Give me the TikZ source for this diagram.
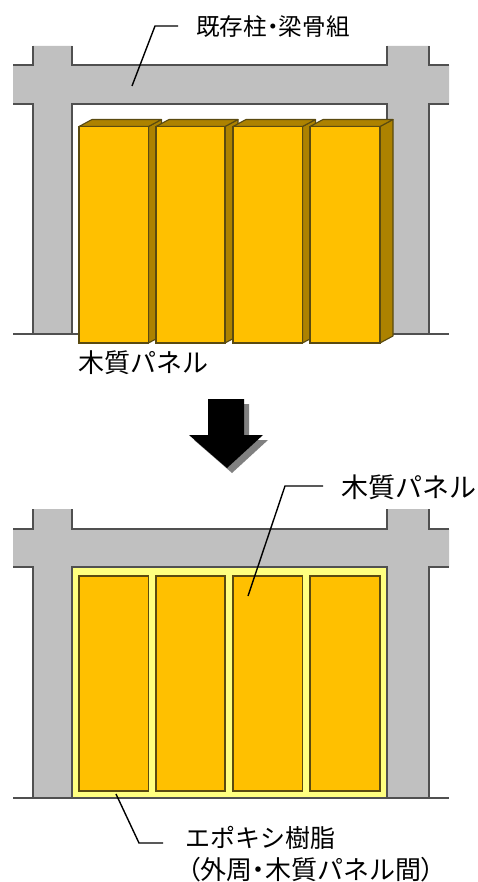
\documentclass[tikz,border=0pt]{standalone}
\usepackage{fontspec}
\usetikzlibrary{calc}
\setmainfont{Noto Sans CJK JP}
\newfontfamily\propfont{Noto Sans CJK JP}[RawFeature=+palt]
\definecolor{concrete}{HTML}{C0C0C0}
\definecolor{wood}{HTML}{FFC000}
\definecolor{woodside}{HTML}{AD8200}
\definecolor{resin}{HTML}{FFFF80}
\definecolor{edge}{HTML}{505050}
\definecolor{woodedge}{HTML}{5A4A10}
\tikzset{
  frameline/.style={draw=edge,line width=1.3pt,line join=miter},
  framefill/.style={fill=concrete,draw=none},
  panelfront/.style={fill=wood,draw=woodedge,line width=1.3pt},
  panelside/.style={fill=woodside,draw=woodedge,line width=1.1pt,line join=round},
  leader/.style={draw=black,line width=1.4pt},
  label/.style={anchor=west,inner sep=0pt,font=\fontsize{25}{28}\selectfont,text=black}
}
\newcommand{\conframe}[5]{% top, beamtop, beambottom, bottom, name
  \fill[framefill] (33,#1) -- (72,#1) -- (72,#2) -- (387,#2) -- (387,#1) -- (429,#1) -- (429,#2) -- (449,#2) -- (449,#3) -- (429,#3) -- (429,#4) -- (387,#4) -- (387,#3) -- (72,#3) -- (72,#4) -- (33,#4) -- (33,#3) -- (13,#3) -- (13,#2) -- (33,#2) -- cycle;
  \draw[frameline] (33,#1) -- (33,#2) -- (13,#2);
  \draw[frameline] (72,#1) -- (72,#2) -- (387,#2) -- (387,#1);
  \draw[frameline] (429,#1) -- (429,#2) -- (449,#2);
  \draw[frameline] (13,#3) -- (33,#3) -- (33,#4);
  \draw[frameline] (72,#4) -- (72,#3) -- (387,#3) -- (387,#4);
  \draw[frameline] (449,#3) -- (429,#3) -- (429,#4);
  \draw[frameline] (13,#4) -- (449,#4);
}
\begin{document}
\begin{tikzpicture}[x=1pt,y=-1pt]
\useasboundingbox (0,0) rectangle (477,882);
% upper stage
\conframe{46}{65}{104}{334}{a}
\foreach \xa/\xb in {79/148.5,156/225,233/302.5,310/380}{
  \draw[panelside] (\xb,126.5) -- ++(13,-7) -- ++(0,216.5) -- (\xb,343) -- cycle;
  \draw[panelside] (\xa,126.5) -- ++(13,-7) -- ($(\xb,119.5)+(13,0)$) -- (\xb,126.5) -- cycle;
  \draw[panelfront] (\xa,126.5) rectangle (\xb,343);
}
% lower stage
\conframe{509}{529}{567}{798}{b}
\draw[frameline,fill=resin] (72,567) rectangle (387,798);
\foreach \xa/\xb in {79/148.5,156/225,233/302.5,310/380}{
  \draw[panelfront] (\xa,576) rectangle (\xb,791);
}
% arrow
\fill[gray] (213,404) -- (249,404) -- (249,440) -- (268,440) -- (232,473) -- (194,440) -- (213,440) -- cycle;
\fill[black] (208,399) -- (244,399) -- (244,435) -- (263,435) -- (227,468) -- (189,435) -- (208,435) -- cycle;
% labels
\node[label,font=\fontsize{23.6}{28}\selectfont] (beamlabel) at (196,27) {既存柱{\propfont ・}梁骨組};
\node[label,font=\fontsize{26}{28}\selectfont] (panellabela) at (78,363) {木質パネル};
\node[label,font=\fontsize{27}{28}\selectfont] (panellabelb) at (341,487) {木質パネル};
\node[label] (resinlabel) at (185,838) {エポキシ樹脂};
\node[label,font=\fontsize{26}{28}\selectfont] (resinnote) at (187,870) {{\propfont （}外周{\propfont ・}木質パネル間{\propfont ）}};
% leaders
\coordinate (beampt) at (132,86);
\coordinate (panelpt) at (248,596);
\coordinate (resinpt) at (116,794);
\draw[leader] (beampt) -- (155,26) -- (178,26);
\draw[leader] (panelpt) -- (285,486) -- (323,486);
\draw[leader] (resinpt) -- (139,843) -- (163,843);
\end{tikzpicture}
\end{document}
